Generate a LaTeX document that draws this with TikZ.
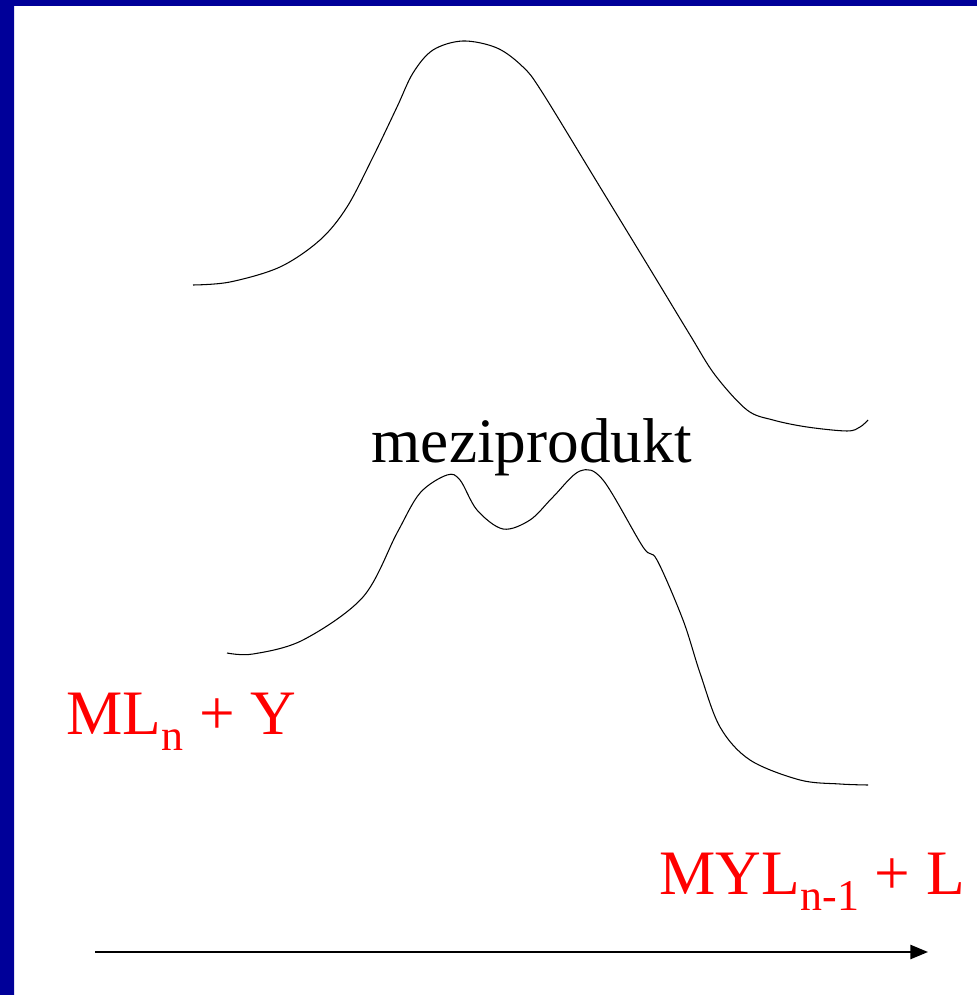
\documentclass[tikz,border=0pt]{standalone}
\usepackage{fontspec}
\setmainfont{Liberation Serif}
\usetikzlibrary{arrows.meta}
\definecolor{slideblue}{RGB}{0,0,153}
\newcommand{\lowidx}[1]{\raisebox{-4.6pt}{\fontsize{12.5}{14}\selectfont #1}}

\begin{document}
\begin{tikzpicture}[x=0.01cm,y=-0.01cm]
  \useasboundingbox (0,0) rectangle (977,995);
  \fill[slideblue] (0,0) rectangle (14,995) (0,0) rectangle (977,6);
  \tikzset{profile/.style={line width=0.3pt,smooth,tension=0.55},
    chemtext/.style={anchor=base west,inner sep=0pt,font=\fontsize{18}{22}\selectfont}}
  % one-step path
  \draw[profile] plot coordinates {(193,285) (230,282) (280,267) (320,240) (347,207) (373,157) (397,107) (413,73) (433,50) (463,41) (497,48) (523,67) (542,92) (600,187) (650,269) (690,335) (715,375) (747,410) (773,420) (807,427) (847,431) (860,427) (868,420)};
  % path through the intermediate
  \draw[profile] plot coordinates {(227,653) (253,654) (303,640) (363,597) (397,533) (420,493) (447,475) (460,480) (477,510) (503,529) (530,520) (553,497) (580,471) (603,480) (643,547) (657,560) (683,620) (700,673) (720,727) (750,760) (800,780) (840,784) (868,785)};
  \node[chemtext] (inter) at (371,463) {meziprodukt};
  \node[chemtext,red] (react) at (66,734) {ML\lowidx{n} + Y};
  \node[chemtext,red] (prod) at (659,894) {MYL\lowidx{n-1} + L};
  \coordinate (start) at (95,952); \coordinate (end) at (928,952);
  \draw[line width=0.6pt,-{Triangle[length=5pt,width=4pt]}] (start)--(end);
\end{tikzpicture}
\end{document}
